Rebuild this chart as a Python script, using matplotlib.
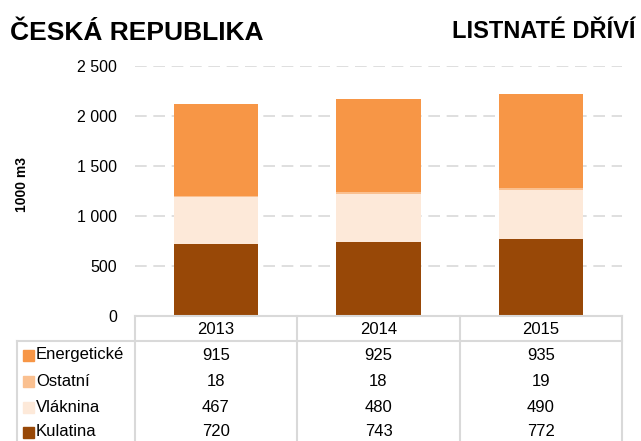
import matplotlib
matplotlib.use("Agg")
import matplotlib.pyplot as plt
from matplotlib.lines import Line2D
from matplotlib.patches import Rectangle
import numpy as np

plt.rcParams['font.family'] = ['Liberation Sans', 'DejaVu Sans']

years = ['2013', '2014', '2015']
series_names = ['Kulatina', 'Vláknina', 'Ostatní', 'Energetické']
kulatina = [720, 743, 772]
vlaknina = [467, 480, 490]
ostatni = [18, 18, 19]
energeticke = [915, 925, 935]
colors = {'Kulatina': '#984807', 'Vláknina': '#FDE9D9', 'Ostatní': '#FAC090', 'Energetické': '#F79646'}
values = {'Kulatina': kulatina, 'Vláknina': vlaknina, 'Ostatní': ostatni, 'Energetické': energeticke}
yticks = [0, 500, 1000, 1500, 2000, 2500]
ytick_labels = ['0', '500', '1 000', '1 500', '2 000', '2 500']

W, H = 641, 441
fig = plt.figure(figsize=(W / 100, H / 100), dpi=100)

def fx(px):
    return px / W

def fy(py):
    return 1 - py / H

ax_l, ax_r, ax_t, ax_b = 135, 622, 66, 316
ax = fig.add_axes([fx(ax_l), fy(ax_b), fx(ax_r) - fx(ax_l), fy(ax_t) - fy(ax_b)])

x = np.arange(len(years))
bottom = np.zeros(len(years))
for name in series_names:
    v = np.array(values[name], dtype=float)
    ax.bar(x, v, bottom=bottom, width=0.52, color=colors[name], zorder=3, linewidth=0)
    bottom += v

ax.set_xlim(-0.5, len(years) - 0.5)
ax.set_ylim(0, 2500)
ax.set_yticks(yticks)
ax.set_yticklabels(ytick_labels, fontsize=11.5)
ax.set_xticks([])
ax.tick_params(axis='y', length=0, pad=13)
for s in ax.spines.values():
    s.set_visible(False)
for t in yticks[1:]:
    ax.axhline(t, color='#D9D9D9', linewidth=1.2, linestyle=(0, (7, 4)), zorder=1)

fig.text(fx(22), fy(185), '1000 m3', rotation=90, fontsize=10, fontweight='bold', ha='center', va='center')

# titles
fig.text(fx(10), fy(33), 'ČESKÁ REPUBLIKA', fontsize=19, fontweight='bold', ha='left', va='center')
fig.text(fx(636), fy(32), 'LISTNATÉ DŘÍVÍ', fontsize=17, fontweight='bold', ha='right', va='center')

# data table
lc = '#D9D9D9'
lw = 1.5
col_edges = [135, 297, 460, 622]
header_top, header_bot = 316, 341
tbl_left = 17
tbl_bottom = 441

def hline(x0, x1, y):
    fig.add_artist(Line2D([fx(x0), fx(x1)], [fy(y), fy(y)], color=lc, linewidth=lw, transform=fig.transFigure))

def vline(xx, y0, y1):
    fig.add_artist(Line2D([fx(xx), fx(xx)], [fy(y0), fy(y1)], color=lc, linewidth=lw, transform=fig.transFigure))

hline(col_edges[0], col_edges[-1], header_top)
hline(tbl_left, col_edges[-1], header_bot)
for ce in col_edges:
    vline(ce, header_top, tbl_bottom)
vline(tbl_left, header_bot, tbl_bottom)

for i, yr in enumerate(years):
    cx = (col_edges[i] + col_edges[i + 1]) / 2
    fig.text(fx(cx), fy(329), yr, fontsize=12, ha='center', va='center')

row_order = ['Energetické', 'Ostatní', 'Vláknina', 'Kulatina']
row_y = [355, 381, 407, 432]
for name, ry in zip(row_order, row_y):
    fig.add_artist(Rectangle((fx(23), fy(ry + 5.5)), fx(11), fy(0) - fy(11), color=colors[name],
                             transform=fig.transFigure))
    fig.text(fx(36), fy(ry), name, fontsize=12, ha='left', va='center')
    for i in range(len(years)):
        cx = (col_edges[i] + col_edges[i + 1]) / 2
        fig.text(fx(cx), fy(ry), str(values[name][i]), fontsize=12, ha='center', va='center')

fig.savefig('out.png', dpi=100)
